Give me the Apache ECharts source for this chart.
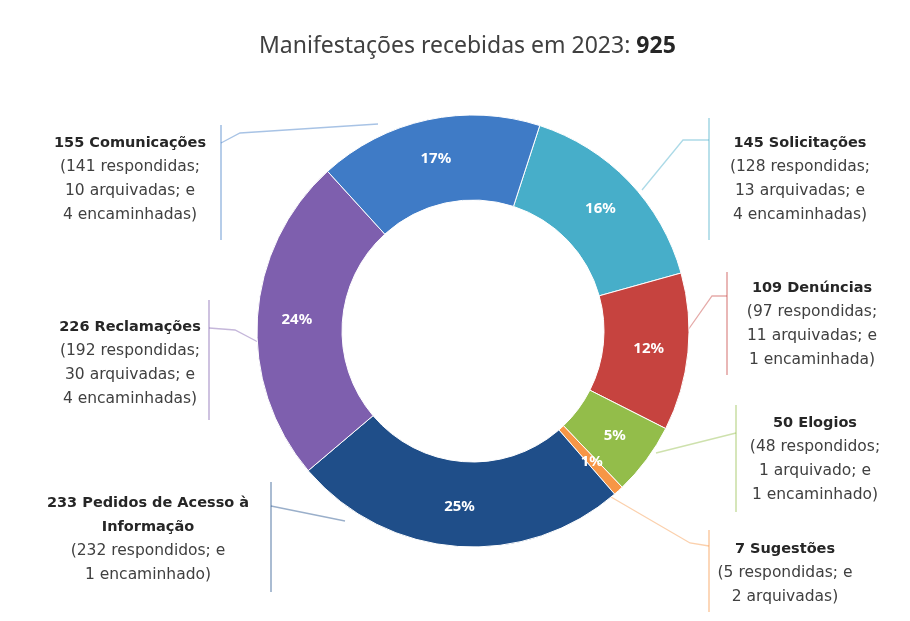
<!DOCTYPE html>
<html><head><meta charset="utf-8">
<script src="https://cdn.jsdelivr.net/npm/echarts@6/dist/echarts.min.js"></script>
<style>html,body{margin:0;padding:0;background:#fff}#c{width:910px;height:621px}</style>
</head><body><div id="c"></div>
<script>
// ---- data ----
const titleText = 'Manifestações recebidas em 2023: ';
const titleTotal = '925';
const categories = ['Solicitações','Denúncias','Elogios','Sugestões','Pedidos de Acesso à Informação','Reclamações','Comunicações'];
const values = [145, 109, 50, 7, 233, 226, 155];
const detailLines = [
  ['(128 respondidas;', '13 arquivadas; e', '4 encaminhadas)'],
  ['(97 respondidas;', '11 arquivadas; e', '1 encaminhada)'],
  ['(48 respondidos;', '1 arquivado; e', '1 encaminhado)'],
  ['(5 respondidas; e', '2 arquivadas)'],
  ['(232 respondidos; e', '1 encaminhado)'],
  ['(192 respondidas;', '30 arquivadas; e', '4 encaminhadas)'],
  ['(141 respondidas;', '10 arquivadas; e', '4 encaminhadas)']
];
const headingWrap = {'Pedidos de Acesso à Informação': 'Pedidos de Acesso à\nInformação'};

// ---- style / layout ----
const colors = ['#47aec9','#c6433f','#93bd4a','#f79646','#1f4e89','#7e5fae','#3f7bc6'];
function rgba(hex, a){const n=parseInt(hex.slice(1),16);return 'rgba('+(n>>16)+','+((n>>8)&255)+','+(n&255)+','+a+')';}
const CX = 473, CY = 331, R_IN = 131, R_OUT = 216;
const labelPos = [[800,179],[812,324],[815,459],[785,573],[148,539],[130,363],[130,179]];
const leaders = [
  [[642,190],[683,140],[709,140]],
  [[688,330],[712,296],[727,296]],
  [[656,453],[736,433]],
  [[611,497],[690,543],[709,546]],
  [[345,521],[271,506]],
  [[258,342],[235,330],[209,328]],
  [[378,124],[240,133],[221,143]]
];
const bars = [[709,118,240],[727,272,375],[736,405,512],[709,530,612],[271,482,592],[209,300,420],[221,125,240]];

const FONT = '"Noto Sans", sans-serif';
const LFONT = '"DejaVu Sans", sans-serif';
const chart = echarts.init(document.getElementById('c'));

const pieData = categories.map((c,i)=>({name:c, value:values[i], itemStyle:{color:colors[i]}}));
const labelData = categories.map((c,i)=>({
  name:c, value:values[i],
  itemStyle:{color:'rgba(0,0,0,0)', borderWidth:0},
  labelLine:{lineStyle:{color:rgba(colors[i],0.45), width:1.3}}
}));

const graphics = bars.map((b,i)=>({
  type:'line', silent:true,
  shape:{x1:b[0], y1:b[1], x2:b[0], y2:b[2]},
  style:{stroke:rgba(colors[i],0.38), lineWidth:2}
}));

chart.setOption({
  backgroundColor:'#fff',
  animation:false,
  title:{
    left:254, top:30,
    text:'{a|'+titleText+'}{b|'+titleTotal+'}',
    textStyle:{fontWeight:'normal', rich:{
      a:{fontFamily:FONT, fontSize:23, color:'#404040', fontWeight:'normal'},
      b:{fontFamily:FONT, fontSize:23, color:'#262626', fontWeight:'bold'}
    }}
  },
  graphic:graphics,
  series:[
    {
      type:'pie', center:[CX,CY], radius:[R_IN,R_OUT], startAngle:72, clockwise:true,
      percentPrecision:0, silent:true,
      itemStyle:{borderColor:'#fff', borderWidth:1},
      label:{show:true, position:'inside', formatter:'{d}%', color:'#fff', fontFamily:FONT, fontSize:15, fontWeight:'bold'},
      labelLine:{show:false},
      emphasis:{disabled:true},
      data:pieData
    },
    {
      type:'pie', center:[CX,CY], radius:[R_IN,R_OUT], startAngle:72, clockwise:true,
      silent:true, avoidLabelOverlap:false,
      label:{
        show:true, position:'outer',
        formatter:function(p){
          const head = p.value+' '+(headingWrap[p.name]||p.name);
          return '{b|'+head+'}\n'+detailLines[p.dataIndex].map(s=>'{n|'+s+'}').join('\n');
        },
        lineHeight:24,
        rich:{
          b:{fontFamily:LFONT, fontSize:14.5, fontWeight:'bold', color:'#262626', lineHeight:24, align:'center'},
          n:{fontFamily:LFONT, fontSize:15.5, color:'#404040', lineHeight:24, align:'center'}
        }
      },
      labelLine:{show:true},
      labelLayout:function(p){
        const i = p.dataIndex;
        return {x:labelPos[i][0], y:labelPos[i][1], align:'center', verticalAlign:'middle', labelLinePoints:leaders[i]};
      },
      emphasis:{disabled:true},
      data:labelData
    }
  ]
});
</script>
</body></html>
